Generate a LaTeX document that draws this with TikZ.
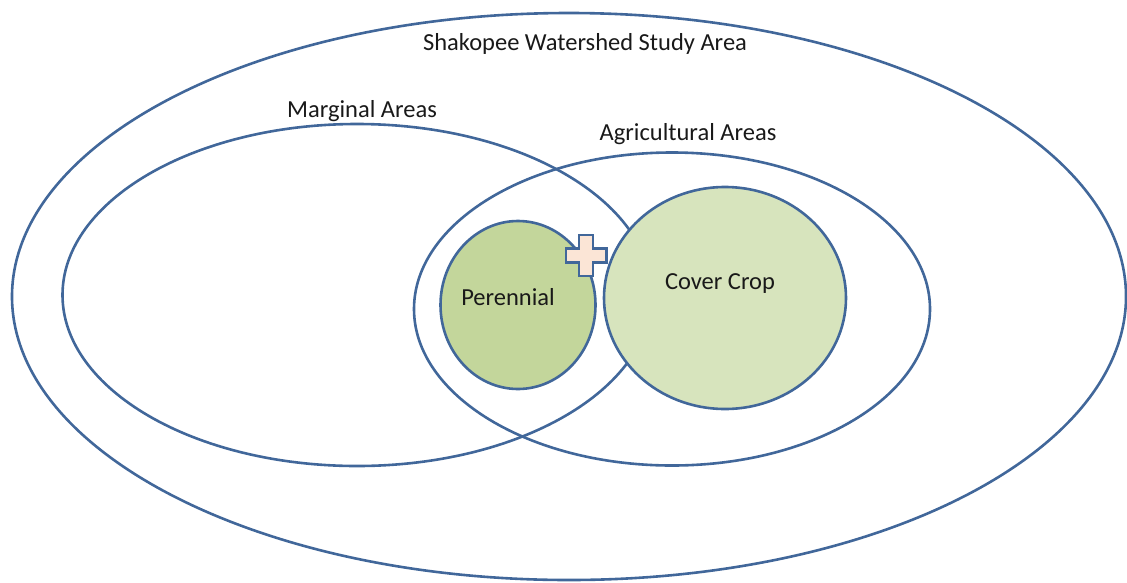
\documentclass[tikz,border=0pt]{standalone}
\usepackage{fontspec}
\setmainfont{Carlito}
\usetikzlibrary{shapes.geometric}
\definecolor{rim}{HTML}{41679A}
\definecolor{perfill}{HTML}{C3D69B}
\definecolor{covfill}{HTML}{D7E4BD}
\definecolor{plusfill}{HTML}{FBE5D6}
\begin{document}
\begin{tikzpicture}[x=1pt,y=-1pt,
  region/.style={ellipse,draw=rim,line width=2.6pt,inner sep=0pt},
  lbl/.style={font=\fontsize{24.5}{28}\selectfont,inner sep=0pt,text=black!90}]
\useasboundingbox (0,0) rectangle (1127,582);
% nested study areas
\node[region,minimum width=1114pt,minimum height=567pt] (study) at (569,296.5) {};
\node[region,minimum width=589pt,minimum height=342pt] (marginal) at (357,295) {};
\node[region,minimum width=516pt,minimum height=313pt] (agri) at (672,309) {};
% practices
\node[region,fill=perfill,minimum width=155pt,minimum height=168pt] (perennial) at (518,305) {};
\node[region,fill=covfill,minimum width=242pt,minimum height=222pt] (cover) at (725,298) {};
% plus sign between the two practices
\coordinate (pc) at (586,255.5);
\draw[rim,fill=plusfill,line width=2.4pt,line join=miter]
  ([shift={(-7,-20.3)}]pc) -- ++(14,0) -- ++(0,13.3) -- ++(13.3,0) -- ++(0,14) -- ++(-13.3,0)
  -- ++(0,13.3) -- ++(-14,0) -- ++(0,-13.3) -- ++(-13.3,0) -- ++(0,-14) -- ++(13.3,0) -- cycle;
% labels
\node[lbl] (tstudy) at (585,44) {Shakopee Watershed Study Area};
\node[lbl] (tmarg) at (362,111) {Marginal Areas};
\node[lbl] (tagri) at (688,134) {Agricultural Areas};
\node[lbl] (tper) at (508,297) {Perennial};
\node[lbl] (tcov) at (720,284) {Cover Crop};
\end{tikzpicture}
\end{document}
